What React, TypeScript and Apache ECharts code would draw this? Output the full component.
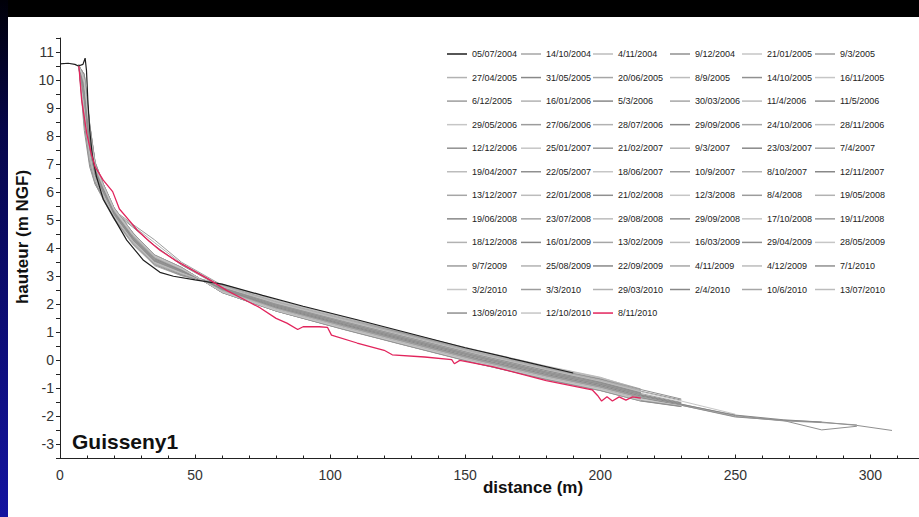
import React, { useEffect, useRef } from 'react';
import * as echarts from 'echarts';

// distances (m) at which the grey profiles were read
const gridDistances = [7, 9, 11, 13, 16, 20, 27, 35, 45, 60, 80, 105, 130, 155, 180, 200, 215, 230, 250, 268, 282, 295, 308];

// first survey (black)
const firstName = '05/07/2004';
const blackDistances = [0, 3, 5.5, 6.8, 8.5, 9.3, 9.8, 10.3, 11, 12, 13.5, 16, 19.7, 24.7, 30.9, 37, 42, 50, 60, 75, 90, 110, 130, 150, 170, 190];
const blackHeights = [10.58, 10.6, 10.56, 10.5, 10.56, 10.78, 10.35, 9.3, 8.2, 7.3, 6.55, 5.75, 5.12, 4.29, 3.57, 3.14, 3.0, 2.87, 2.72, 2.32, 1.93, 1.45, 0.95, 0.45, 0.0, -0.45];

// last survey (red)
const lastName = '8/11/2010';
const redDistances = [7, 8, 9.9, 11.5, 13, 16, 19.5, 22, 26, 28.5, 33, 37, 43, 49.4, 55, 62, 68, 74, 80, 84, 88, 90, 96, 99, 100.5, 110, 120, 123, 135, 145, 146, 148, 160, 180, 197, 199, 200.5, 202.5, 204.5, 207, 209.5, 212, 215];
const redHeights = [10.5, 9.3, 8.1, 7.4, 6.9, 6.43, 6.02, 5.4, 4.95, 4.65, 4.25, 3.93, 3.55, 3.2, 2.9, 2.48, 2.18, 1.88, 1.5, 1.33, 1.1, 1.2, 1.2, 1.18, 0.9, 0.62, 0.36, 0.2, 0.12, 0.03, -0.12, 0.0, -0.22, -0.72, -1.05, -1.25, -1.45, -1.3, -1.45, -1.3, -1.42, -1.3, -1.35];

const profiles2004: [string, number[]][] = [
  ['14/10/2004', [10.55, 8.4, 7.0, 6.3, 5.75, 5.05, 4.15, 3.38, 3.02, 2.7, 2.13, 1.52, 0.93, 0.33, -0.22, -0.62, -1.02]],
  ['4/11/2004', [10.5, 8.7, 7.1, 6.35, 5.72, 5.03, 4.12, 3.4, 3.05, 2.72, 2.15, 1.55, 0.92, 0.35, -0.2, -0.6, -1.05]],
  ['9/12/2004', [10.52, 8.2, 6.9, 6.28, 5.78, 5.08, 4.18, 3.42, 3.03, 2.68, 2.1, 1.5, 0.9, 0.3, -0.25, -0.66, -1.04, -1.38]],
];
const profiles2005: [string, number[]][] = [
  ['21/01/2005', [10.5, 8.9, 7.2, 6.4, 5.8, 5.1, 4.2, 3.45, 3.08, 2.7, 2.12, 1.5, 0.88, 0.3, -0.24, -0.64, -1.06]],
  ['9/3/2005', [10.48, 8.5, 7.05, 6.33, 5.82, 5.06, 4.16, 3.44, 3.06, 2.66, 2.08, 1.48, 0.9, 0.28, -0.27, -0.66, -1.05]],
  ['27/04/2005', [10.55, 9.1, 7.3, 6.45, 5.85, 5.12, 4.22, 3.46, 3.1, 2.69, 2.1, 1.47, 0.86, 0.27, -0.28, -0.7, -1.08]],
  ['31/05/2005', [10.5, 8.6, 7.15, 6.38, 5.8, 5.09, 4.2, 3.48, 3.07, 2.67, 2.07, 1.46, 0.87, 0.25, -0.3, -0.68, -1.1, -1.42]],
  ['20/06/2005', [10.5, 9.3, 7.4, 6.5, 5.88, 5.14, 4.24, 3.5, 3.12, 2.65, 2.05, 1.44, 0.84, 0.24, -0.3, -0.72, -1.1]],
  ['8/9/2005', [10.53, 8.8, 7.2, 6.42, 5.86, 5.13, 4.2, 3.47, 3.1, 2.66, 2.06, 1.45, 0.85, 0.22, -0.33, -0.73, -1.12]],
  ['14/10/2005', [10.5, 9.0, 7.35, 6.48, 5.9, 5.16, 4.25, 3.52, 3.13, 2.64, 2.03, 1.42, 0.82, 0.21, -0.34, -0.74, -1.14]],
  ['16/11/2005', [10.47, 9.4, 7.5, 6.55, 5.92, 5.15, 4.27, 3.5, 3.11, 2.63, 2.04, 1.43, 0.8, 0.2, -0.35, -0.75, -1.12, -1.45, -1.92]],
  ['6/12/2005', [10.5, 8.95, 7.3, 6.5, 5.93, 5.17, 4.26, 3.53, 3.14, 2.62, 2.02, 1.4, 0.81, 0.19, -0.36, -0.77, -1.15]],
];
const profiles2006: [string, number[]][] = [
  ['16/01/2006', [10.55, 9.2, 7.45, 6.56, 5.95, 5.18, 4.28, 3.55, 3.15, 2.62, 2.0, 1.4, 0.79, 0.18, -0.38, -0.76, -1.16]],
  ['5/3/2006', [10.5, 9.5, 7.6, 6.6, 5.97, 5.2, 4.3, 3.54, 3.16, 2.6, 2.01, 1.38, 0.78, 0.17, -0.37, -0.78, -1.17]],
  ['30/03/2006', [10.52, 9.05, 7.4, 6.55, 5.96, 5.19, 4.29, 3.56, 3.15, 2.61, 1.99, 1.37, 0.77, 0.15, -0.4, -0.8, -1.18, -1.5]],
  ['11/4/2006', [10.5, 9.35, 7.55, 6.62, 6.0, 5.22, 4.3, 3.57, 3.17, 2.59, 1.98, 1.36, 0.76, 0.16, -0.4, -0.79, -1.2]],
  ['11/5/2006', [10.5, 9.6, 7.7, 6.65, 6.02, 5.21, 4.32, 3.58, 3.18, 2.58, 1.98, 1.35, 0.75, 0.14, -0.42, -0.81, -1.19]],
  ['29/05/2006', [10.48, 9.25, 7.5, 6.6, 6.03, 5.23, 4.33, 3.57, 3.17, 2.57, 1.96, 1.34, 0.74, 0.13, -0.43, -0.82, -1.21]],
  ['27/06/2006', [10.5, 9.4, 7.65, 6.68, 6.05, 5.35, 4.85, 4.3, 3.5, 2.68, 1.98, 1.33, 0.72, 0.12, -0.44, -0.84, -1.22]],
  ['28/07/2006', [10.53, 9.55, 7.75, 6.7, 6.06, 5.32, 4.8, 4.2, 3.45, 2.64, 1.95, 1.32, 0.73, 0.11, -0.45, -0.83, -1.23]],
  ['29/09/2006', [10.5, 9.3, 7.6, 6.66, 6.04, 5.3, 4.75, 4.1, 3.4, 2.6, 1.94, 1.31, 0.71, 0.1, -0.46, -0.85, -1.24, -1.55]],
  ['24/10/2006', [10.5, 9.7, 7.85, 6.72, 6.08, 5.24, 4.35, 3.6, 3.19, 2.56, 1.93, 1.3, 0.7, 0.09, -0.46, -0.86, -1.25]],
  ['28/11/2006', [10.55, 9.45, 7.7, 6.7, 6.07, 5.26, 4.36, 3.6, 3.2, 2.55, 1.92, 1.29, 0.69, 0.08, -0.47, -0.87, -1.24]],
  ['12/12/2006', [10.5, 9.8, 7.95, 6.78, 6.1, 5.27, 4.37, 3.62, 3.2, 2.55, 1.91, 1.28, 0.68, 0.07, -0.48, -0.88, -1.26, -1.56, -1.97, -2.15, -2.48, -2.35]],
];
const profiles2007: [string, number[]][] = [
  ['25/01/2007', [10.5, 9.5, 7.75, 6.74, 6.1, 5.28, 4.38, 3.61, 3.21, 2.54, 1.9, 1.27, 0.66, 0.05, -0.5, -0.9, -1.27]],
  ['21/02/2007', [10.48, 9.65, 7.85, 6.76, 6.12, 5.29, 4.39, 3.63, 3.22, 2.53, 1.89, 1.26, 0.65, 0.04, -0.5, -0.89, -1.28]],
  ['9/3/2007', [10.52, 9.85, 8.0, 6.82, 6.13, 5.3, 4.4, 3.64, 3.22, 2.52, 1.88, 1.25, 0.64, 0.04, -0.52, -0.91, -1.29]],
  ['23/03/2007', [10.5, 9.6, 7.8, 6.78, 6.14, 5.31, 4.41, 3.64, 3.23, 2.52, 1.87, 1.24, 0.63, 0.02, -0.53, -0.92, -1.3, -1.58]],
  ['7/4/2007', [10.5, 9.75, 7.95, 6.8, 6.15, 5.32, 4.42, 3.66, 3.24, 2.51, 1.87, 1.23, 0.62, 0.01, -0.54, -0.93, -1.31]],
  ['19/04/2007', [10.53, 9.9, 8.05, 6.85, 6.16, 5.33, 4.43, 3.66, 3.24, 2.5, 1.86, 1.22, 0.61, 0.0, -0.55, -0.94, -1.3]],
  ['22/05/2007', [10.5, 9.7, 7.9, 6.83, 6.17, 5.33, 4.44, 3.67, 3.25, 2.5, 1.85, 1.21, 0.6, -0.01, -0.56, -0.95, -1.32]],
  ['18/06/2007', [10.47, 9.55, 7.8, 6.8, 6.18, 5.34, 4.45, 3.68, 3.25, 2.49, 1.84, 1.2, 0.59, -0.02, -0.57, -0.96, -1.33]],
  ['10/9/2007', [10.5, 9.9, 8.1, 6.88, 6.19, 5.35, 4.46, 3.68, 3.26, 2.49, 1.84, 1.2, 0.58, -0.03, -0.58, -0.97, -1.34, -1.6, -2.0, -2.16, -2.22, -2.3]],
  ['8/10/2007', [10.55, 9.8, 8.0, 6.86, 6.2, 5.36, 4.46, 3.69, 3.26, 2.48, 1.83, 1.19, 0.57, -0.04, -0.59, -0.98, -1.35]],
  ['12/11/2007', [10.5, 10.0, 8.2, 6.92, 6.21, 5.37, 4.47, 3.7, 3.27, 2.48, 1.82, 1.18, 0.56, -0.05, -0.6, -0.99, -1.33]],
  ['13/12/2007', [10.5, 9.75, 7.95, 6.88, 6.22, 5.37, 4.48, 3.7, 3.27, 2.47, 1.82, 1.17, 0.56, -0.06, -0.6, -1.0, -1.36]],
];
const profiles2008: [string, number[]][] = [
  ['22/01/2008', [10.52, 9.95, 8.15, 6.9, 6.22, 5.38, 4.48, 3.71, 3.28, 2.47, 1.81, 1.17, 0.55, -0.06, -0.61, -1.0, -1.37]],
  ['21/02/2008', [10.5, 10.05, 8.25, 6.95, 6.23, 5.39, 4.49, 3.71, 3.28, 2.46, 1.81, 1.16, 0.54, -0.07, -0.62, -1.01, -1.38]],
  ['12/3/2008', [10.5, 9.85, 8.1, 6.92, 6.24, 5.4, 4.5, 3.72, 3.28, 2.46, 1.8, 1.15, 0.53, -0.08, -0.63, -1.02, -1.37, -1.62]],
  ['8/4/2008', [10.48, 10.1, 8.3, 7.0, 6.25, 5.4, 4.5, 3.72, 3.29, 2.45, 1.8, 1.15, 0.53, -0.08, -0.63, -1.02, -1.39]],
  ['19/05/2008', [10.5, 9.9, 8.15, 6.96, 6.25, 5.41, 4.51, 3.73, 3.29, 2.45, 1.79, 1.14, 0.52, -0.09, -0.64, -1.03, -1.4]],
  ['19/06/2008', [10.53, 10.15, 8.35, 7.02, 6.26, 5.41, 4.52, 3.73, 3.3, 2.44, 1.79, 1.14, 0.52, -0.1, -0.64, -1.04, -1.39]],
  ['23/07/2008', [10.5, 10.0, 8.2, 6.98, 6.27, 5.42, 4.52, 3.74, 3.3, 2.44, 1.78, 1.13, 0.51, -0.1, -0.65, -1.04, -1.41]],
  ['29/08/2008', [10.5, 10.2, 8.4, 7.05, 6.28, 5.42, 4.53, 3.74, 3.3, 2.44, 1.78, 1.13, 0.51, -0.1, -0.65, -1.05, -1.42, -1.63]],
  ['29/09/2008', [10.5, 9.2, 7.5, 6.6, 6.0, 5.2, 4.3, 3.55, 3.15, 2.6, 2.02, 1.4, 0.8, 0.2, -0.35, -0.78, -1.15]],
  ['17/10/2008', [10.52, 9.6, 7.8, 6.75, 6.12, 5.3, 4.4, 3.62, 3.22, 2.5, 1.9, 1.28, 0.66, 0.06, -0.5, -0.9, -1.28, -1.58]],
  ['19/11/2008', [10.5, 10.1, 8.3, 7.0, 6.28, 5.44, 4.55, 3.76, 3.32, 2.43, 1.77, 1.12, 0.5, -0.11, -0.66, -1.05, -1.4]],
  ['18/12/2008', [10.48, 8.8, 7.2, 6.45, 5.88, 5.12, 4.22, 3.47, 3.09, 2.66, 2.08, 1.47, 0.86, 0.26, -0.3, -0.7, -1.08]],
];
const profiles2009: [string, number[]][] = [
  ['16/01/2009', [10.5, 9.45, 7.7, 6.7, 6.06, 5.25, 4.35, 3.58, 3.19, 2.56, 1.94, 1.3, 0.7, 0.1, -0.45, -0.85, -1.22, -1.52]],
  ['13/02/2009', [10.55, 10.0, 8.2, 6.95, 6.24, 5.4, 4.5, 3.72, 3.28, 2.45, 1.8, 1.15, 0.53, -0.08, -0.62, -1.02, -1.38]],
  ['16/03/2009', [10.5, 9.0, 7.35, 6.5, 5.92, 5.15, 4.25, 3.5, 3.12, 2.63, 2.04, 1.42, 0.82, 0.22, -0.33, -0.74, -1.12]],
  ['29/04/2009', [10.5, 9.85, 8.05, 6.85, 6.18, 5.35, 4.45, 3.67, 3.25, 2.49, 1.84, 1.21, 0.6, -0.02, -0.57, -0.96, -1.33, -1.6, -2.02, -2.14, -2.2, -2.32, -2.5]],
  ['28/05/2009', [10.52, 10.15, 8.35, 7.02, 6.27, 5.43, 4.53, 3.75, 3.3, 2.43, 1.77, 1.12, 0.49, -0.12, -0.67, -1.06, -1.42]],
  ['9/7/2009', [10.5, 9.35, 7.6, 6.65, 6.04, 5.24, 4.33, 3.57, 3.18, 2.57, 1.96, 1.33, 0.73, 0.12, -0.43, -0.82, -1.2]],
  ['25/08/2009', [10.48, 9.9, 8.1, 6.9, 6.22, 5.38, 4.48, 3.7, 3.27, 2.47, 1.82, 1.17, 0.55, -0.05, -0.6, -1.0, -1.36]],
  ['22/09/2009', [10.5, 10.2, 8.4, 7.05, 6.3, 5.45, 4.55, 3.76, 3.31, 2.42, 1.76, 1.11, 0.49, -0.12, -0.68, -1.07, -1.45, -1.65]],
  ['4/11/2009', [10.53, 9.7, 7.9, 6.8, 6.14, 5.3, 4.4, 3.63, 3.23, 2.52, 1.88, 1.25, 0.64, 0.03, -0.52, -0.92, -1.3]],
  ['4/12/2009', [10.5, 10.05, 8.25, 6.98, 6.26, 5.42, 4.52, 3.74, 3.29, 2.44, 1.78, 1.13, 0.5, -0.11, -0.66, -1.05, -1.41]],
];
const profiles2010: [string, number[]][] = [
  ['7/1/2010', [10.5, 9.3, 7.55, 6.62, 6.02, 5.22, 4.32, 3.56, 3.17, 2.58, 1.97, 1.35, 0.74, 0.14, -0.41, -0.8, -1.18]],
  ['3/2/2010', [10.5, 10.1, 8.3, 7.0, 6.26, 5.4, 4.5, 3.73, 3.29, 2.45, 1.79, 1.14, 0.52, -0.09, -0.64, -1.03, -1.4, -1.62]],
  ['3/3/2010', [10.52, 9.8, 8.0, 6.84, 6.17, 5.33, 4.43, 3.66, 3.24, 2.5, 1.86, 1.22, 0.61, 0.0, -0.55, -0.95, -1.32]],
  ['29/03/2010', [10.5, 10.2, 8.45, 7.08, 6.3, 5.45, 4.55, 3.76, 3.32, 2.42, 1.76, 1.1, 0.48, -0.13, -0.68, -1.08, -1.45]],
  ['2/4/2010', [10.48, 9.65, 7.85, 6.76, 6.12, 5.28, 4.38, 3.62, 3.21, 2.54, 1.9, 1.27, 0.66, 0.05, -0.5, -0.9, -1.27, -1.57, -1.95, -2.12, -2.2]],
  ['10/6/2010', [10.5, 10.05, 8.3, 7.0, 6.27, 5.43, 4.53, 3.75, 3.3, 2.43, 1.77, 1.12, 0.5, -0.11, -0.66, -1.06, -1.43]],
  ['13/07/2010', [10.55, 9.9, 8.1, 6.92, 6.2, 5.36, 4.46, 3.69, 3.26, 2.48, 1.83, 1.19, 0.57, -0.04, -0.59, -0.99, -1.36]],
  ['13/09/2010', [10.5, 10.2, 8.4, 7.06, 6.29, 5.44, 4.54, 3.75, 3.31, 2.42, 1.76, 1.11, 0.49, -0.12, -0.67, -1.07, -1.44, -1.64]],
  ['12/10/2010', [10.5, 10.0, 8.2, 6.96, 6.25, 5.41, 4.51, 3.73, 3.29, 2.44, 1.78, 1.14, 0.52, -0.09, -0.64, -1.04, -1.42]],
];

const grayColors = ['#a6a6a6', '#bcbcbc', '#909090', '#c6c6c6', '#9c9c9c', '#b2b2b2', '#888888'];
const legendColumnLefts = [447, 521, 593, 670, 742, 815];
const FONT = '"Liberation Sans", Arial, sans-serif';

export default function App() {
  const ref = useRef<HTMLDivElement>(null);
  useEffect(() => {
    document.body.style.margin = '0';
    const chart = echarts.init(ref.current as HTMLDivElement, null, { renderer: 'svg' });
    const grays = [...profiles2004, ...profiles2005, ...profiles2006, ...profiles2007, ...profiles2008, ...profiles2009, ...profiles2010];
    const allNames = [firstName, ...grays.map((g) => g[0]), lastName];
    const series: any[] = grays.map(([name, h], i) => {
      const c = grayColors[i % grayColors.length];
      return {
        type: 'line', name, symbol: 'none', silent: true, z: 2,
        data: h.map((v, j) => [gridDistances[j], v]),
        lineStyle: { width: 1, color: c }, itemStyle: { color: c },
      };
    });
    series.push({
      type: 'line', name: firstName, symbol: 'none', silent: true, z: 3,
      data: blackDistances.map((d, i) => [d, blackHeights[i]]),
      lineStyle: { width: 1.2, color: '#1e1e1e' }, itemStyle: { color: '#1e1e1e' },
    });
    series.push({
      type: 'line', name: lastName, symbol: 'none', silent: true, z: 4,
      data: redDistances.map((d, i) => [d, redHeights[i]]),
      lineStyle: { width: 1.3, color: '#e2245c' }, itemStyle: { color: '#e2245c' },
    });
    const legends = legendColumnLefts.map((left, c) => ({
      orient: 'vertical', left, top: 47, padding: 0,
      icon: 'rect', itemWidth: 20, itemHeight: 1.5, itemGap: 9.55, selectedMode: false,
      data: allNames.filter((_, i) => i % 6 === c),
      textStyle: { fontSize: 9, fontFamily: FONT, color: '#222', lineHeight: 14, height: 14 },
    }));
    chart.setOption({
      animation: false,
      backgroundColor: 'transparent',
      grid: { left: 60, right: 0, top: 38, bottom: 58.5 },
      legend: legends,
      xAxis: {
        type: 'value', min: 0, max: 318, interval: 50,
        axisLine: { onZero: false, lineStyle: { color: '#222', width: 1 } },
        axisTick: { inside: true, length: 4, lineStyle: { color: '#222' } },
        minorTick: { show: true, splitNumber: 5, length: 3, lineStyle: { color: '#222' } },
        splitLine: { show: false },
        axisLabel: { fontSize: 14, fontFamily: FONT, color: '#333', margin: 9, showMaxLabel: false },
      },
      yAxis: {
        type: 'value', min: -3.5, max: 11.5, interval: 0.5,
        axisLine: { show: true, onZero: false, lineStyle: { color: '#222', width: 1 } },
        axisTick: { show: true, length: 4, lineStyle: { color: '#222' } },
        splitLine: { show: false },
        axisLabel: {
          fontSize: 14, fontFamily: FONT, color: '#333', margin: 6,
          formatter: (v: number) => (Number.isInteger(v) ? String(v) : ''),
        },
      },
      graphic: [
        { type: 'text', x: 22, y: 237, rotation: Math.PI / 2, style: { text: 'hauteur (m NGF)', font: `bold 17px ${FONT}`, fill: '#111', textAlign: 'center', textVerticalAlign: 'middle' } },
        { type: 'text', x: 533, y: 487, style: { text: 'distance (m)', font: `bold 17px ${FONT}`, fill: '#111', textAlign: 'center', textVerticalAlign: 'middle' } },
        { type: 'text', x: 72, y: 441, style: { text: 'Guisseny1', font: `bold 21px ${FONT}`, fill: '#111', textAlign: 'left', textVerticalAlign: 'middle' } },
      ],
      series,
    });
    return () => chart.dispose();
  }, []);
  return (
    <div style={{ position: 'relative', width: 919, height: 517, background: '#000', overflow: 'hidden' }}>
      <div style={{ position: 'absolute', left: 0, top: 0, width: 8, height: 517, background: 'linear-gradient(to bottom, #000008 0%, #06064a 25%, #1414a0 100%)' }} />
      <div style={{ position: 'absolute', left: 8, top: 17, width: 911, height: 500, background: '#fff' }} />
      <div ref={ref} style={{ position: 'absolute', left: 0, top: 0, width: 919, height: 517 }} />
    </div>
  );
}
